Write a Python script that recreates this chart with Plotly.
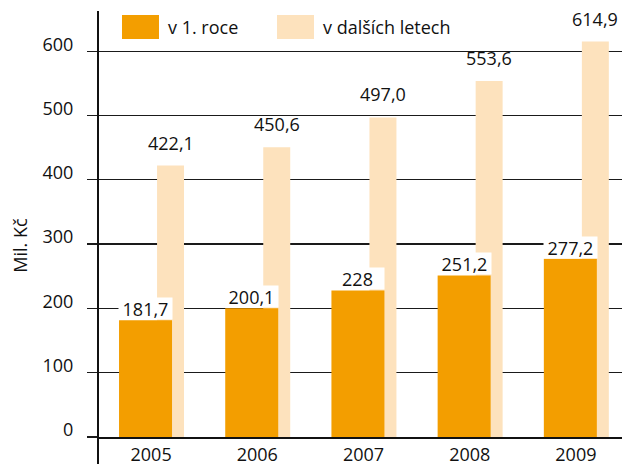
import plotly.graph_objects as go

years = ["2005", "2006", "2007", "2008", "2009"]
first_year = [181.7, 200.1, 228.0, 251.2, 277.2]
first_year_labels = ["181,7", "200,1", "228", "251,2", "277,2"]
later_years = [422.1, 450.6, 497.0, 553.6, 614.9]
later_years_labels = ["422,1", "450,6", "497,0", "553,6", "614,9"]
y_ticks = [0, 100, 200, 300, 400, 500, 600]

ORANGE = "#F39E00"
LIGHT = "#FDE2BD"
FONT = "Open Sans"
FS = 18

xs = list(range(len(years)))
o_off, o_w = -0.302, 0.499
l_off, l_w = 0.056, 0.254

fig = go.Figure()
fig.add_trace(go.Bar(x=xs, y=later_years, offset=l_off, width=l_w,
                     marker=dict(color=LIGHT, line=dict(width=0)),
                     name="v dalších letech", showlegend=False, hoverinfo="skip"))
fig.add_trace(go.Bar(x=xs, y=first_year, offset=o_off, width=o_w,
                     marker=dict(color=ORANGE, line=dict(width=0)),
                     name="v 1. roce", showlegend=False, hoverinfo="skip"))

annotations = []
for i, (v, t) in enumerate(zip(first_year, first_year_labels)):
    annotations.append(dict(x=i + o_off + o_w / 2, y=v, xref="x", yref="y",
                            text=t, showarrow=False, yanchor="bottom",
                            bgcolor="white", width=53, height=21, borderpad=0,
                            font=dict(family=FONT, size=FS, color="#111")))
for i, (v, t) in enumerate(zip(later_years, later_years_labels)):
    annotations.append(dict(x=i + l_off + l_w / 2, y=v, xref="x", yref="y",
                            text=t, showarrow=False, yanchor="bottom", yshift=9,
                            font=dict(family=FONT, size=FS, color="#111")))

# y-axis title
annotations.append(dict(x=-0.149, y=0.451, xref="paper", yref="paper",
                        xanchor="center", yanchor="middle",
                        text="Mil. Kč", textangle=-90, showarrow=False,
                        font=dict(family=FONT, size=FS, color="#111")))

# legend
legend_items = [(ORANGE, "v 1. roce", 0.0458, 0.1164, 0.1298),
                (LIGHT, "v dalších letech", 0.3416, 0.4122, 0.4256)]
shapes = []
for col, txt, x0, x1, xt in legend_items:
    shapes.append(dict(type="rect", xref="paper", yref="paper", x0=x0, x1=x1,
                       y0=0.9343, y1=0.9906, fillcolor=col, line=dict(width=0)))
    annotations.append(dict(x=xt, y=0.9624, xref="paper", yref="paper", text=txt,
                            showarrow=False, xanchor="left", yanchor="middle",
                            font=dict(family=FONT, size=FS, color="#111")))

# y axis line extending below the baseline
shapes.append(dict(type="line", xref="paper", yref="paper", x0=0, x1=0,
                   y0=-0.07, y1=1, line=dict(color="#111", width=2)))

fig.update_layout(
    width=622, height=464,
    margin=dict(l=98, r=0, t=11, b=27, autoexpand=False),
    paper_bgcolor="white", plot_bgcolor="white",
    barmode="overlay",
    showlegend=False,
    font=dict(family=FONT, size=FS, color="#111"),
    annotations=annotations,
    shapes=shapes,
    xaxis=dict(range=[-0.5, 4.434], tickmode="array", tickvals=xs, ticktext=years,
               showgrid=False, zeroline=False, showline=True, linecolor="#111",
               linewidth=2, ticks="", ticklabelstandoff=0, automargin=False,
               tickfont=dict(family=FONT, size=FS, color="#111")),
    yaxis=dict(range=[0, 662.5], tickmode="array", tickvals=y_ticks,
               showgrid=True, gridcolor="#1a1a1a", gridwidth=1.3,
               zeroline=False, showline=False, automargin=False,
               ticks="outside", ticklen=10, tickcolor="#1a1a1a", tickwidth=1.3,
               ticklabelstandoff=10, ticklabelshift=-7,
               tickfont=dict(family=FONT, size=FS, color="#111")),
)

fig.write_html("out.html", config={"displayModeBar": False, "staticPlot": True},
               post_script="document.body.style.margin='0';document.body.style.overflow='hidden';")
